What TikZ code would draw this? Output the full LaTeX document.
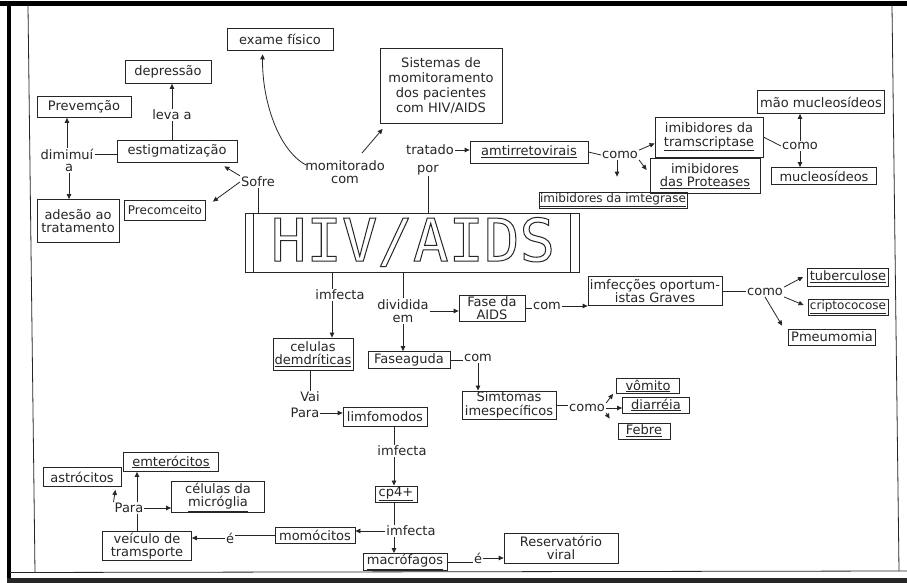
\documentclass[tikz,border=0pt]{standalone}
\usepackage{fontspec}
\setmainfont{DejaVu Sans}
\newfontfamily\hivfont{DejaVu Sans Mono}
\usetikzlibrary{arrows.meta,calc}
\newcommand{\myfs}{\fontsize{13}{13.5}\selectfont}
\newcommand{\smfs}{\fontsize{12}{13}\selectfont}
\begin{document}
\begin{tikzpicture}[x=1pt,y=-1pt,
  ink/.style={draw=black!85, line width=0.8pt},
  bx/.style={ink, rectangle, inner sep=1pt, align=center, font=\myfs, text=black!85},
  lb/.style={inner sep=1pt, align=center, font=\myfs, text=black!85},
  ar/.style={ink, -{Triangle[length=5pt,width=4.5pt]}},
  ln/.style={ink}
]
\useasboundingbox (0,0) rectangle (907,583);
% frame
\fill[white] (0,0) rectangle (907,583);
\fill[black] (0,1.5) rectangle (907,6);
\fill[black] (7,1.5) rectangle (10.5,583);
\fill[black!85] (7,577.5) rectangle (907,583);
\draw[ln] (28,6) -- (35,572);
\draw[ln] (10,572.5) -- (907,571);
\draw[ln] (892,6) -- (899,571);

% upper nodes
\node[bx,minimum width=106,minimum height=22] (exame) at (280,39) {exame físico};
\node[bx,minimum width=86,minimum height=23] (depr) at (168,72) {depressão};
\node[bx,minimum width=94,minimum height=21] (prev) at (84,107) {Prevemção};
\node[bx,minimum width=120,minimum height=22] (estig) at (177,151) {estigmatização};
\node[bx,minimum width=82,minimum height=43] (ades) at (78,221) {adesão ao\\tratamento};
\node[bx,minimum width=81,minimum height=20,font=\smfs] (prec) at (165,210) {Precomceito};
\node[bx,minimum width=122,minimum height=75,font=\fontsize{13}{15}\selectfont] (sist) at (441,86) {Sistemas de\\momitoramento\\dos pacientes\\com HIV/AIDS};
\node[bx,minimum width=118,minimum height=22] (antir) at (529,152) {\underline{amtirretovirais}};
\node[bx,minimum width=108,minimum height=40] (transc) at (709,137) {imibidores da\\\underline{tramscriptase}};
\node[bx,minimum width=110,minimum height=35] (prot) at (705,176) {imibidores\\\underline{das Proteases}};
\node[bx,minimum width=148,minimum height=16,font=\smfs] (integ) at (613,200) {\underline{imibidores da imtegrase}};
\node[bx,minimum width=127,minimum height=23] (naonuc) at (821,102) {mão mucleosídeos};
\node[bx,minimum width=105,minimum height=17] (nuc) at (824,176) {mucleosídeos};

\node[lb] (leva) at (172,115) {leva a};
\node[lb] (dim) at (67,154) {dimimuí};
\node[lb] (dima) at (69,168) {a};
\node[lb] (sofre) at (258,182) {Sofre};
\node[lb] (monit) at (345,172) {momitorado\\com};
\node[lb] (trat) at (430,150) {tratado};
\node[lb] (por) at (428,170) {por};
\node[lb] (como1) at (620,155) {como};
\node[lb] (como2) at (800,146) {como};

% central box
\node[ink, minimum width=334, minimum height=59, inner sep=0] (hiv) at (412,242.5) {};
\draw[ln] ($(hiv.north west)+(9,0)$) -- ($(hiv.south west)+(9,0)$);
\draw[ln] ($(hiv.north east)+(-9,0)$) -- ($(hiv.south east)+(-9,0)$);
\node[inner sep=0, text=black!85] (hivt) at (413,242) {\hivfont\fontsize{59}{59}\selectfont\special{pdf:literal direct 1 Tr 1 w}HIV/AIDS\special{pdf:literal direct 0 Tr}};

% lower nodes
\coordinate (h1) at (332,272);
\coordinate (h2) at (394,0);
\coordinate (px) at (137,508);
\node[lb] (inf1) at (340,295) {imfecta};
\node[lb] (divd) at (403,311) {dividida\\em};
\node[bx,minimum width=66,minimum height=26] (faids) at (492,308) {Fase da\\AIDS};
\node[lb] (com1) at (547,306) {com};
\node[bx,minimum width=134,minimum height=29] (infec) at (655,291) {imfecções oportum-\\istas Graves};
\node[lb] (como3) at (765,292) {como};
\node[bx,minimum width=81,minimum height=18] (tub) at (848,277) {\underline{tuberculose}};
\node[bx,minimum width=80,minimum height=16,font=\smfs] (crip) at (848,307) {\underline{criptococose}};
\node[bx,minimum width=87,minimum height=16] (pneu) at (832,337) {Pmeumomia};
\node[bx,minimum width=80,minimum height=32] (celd) at (313,354) {celulas\\\underline{demdríticas}};
\node[bx,minimum width=82,minimum height=17] (fasea) at (409,360) {Faseaguda};
\node[lb] (com2) at (478,358) {com};
\node[bx,minimum width=94,minimum height=28] (simt) at (509,405) {Simtomas\\imespecíficos};
\node[lb] (como4) at (587,408) {como};
\node[bx,minimum width=63,minimum height=15] (vom) at (648,386) {\underline{vômito}};
\node[bx,minimum width=67,minimum height=16] (diar) at (656,405) {\underline{diarréia}};
\node[bx,minimum width=52,minimum height=16] (feb) at (644,431) {\underline{Febre}};
\node[lb] (vai) at (310,397) {Vai};
\node[lb] (para1) at (305,413) {Para};
\node[bx,minimum width=84,minimum height=19] (limf) at (385,417) {limfomodos};
\node[lb] (inf2) at (402,451) {imfecta};
\node[bx,minimum width=42,minimum height=15] (cp4) at (396,494) {\underline{cp4+}};
\node[lb] (inf3) at (411,531) {imfecta};
\node[bx,minimum width=80,minimum height=16] (momo) at (315,535) {momócitos};
\node[bx,minimum width=84,minimum height=15] (macro) at (405,562) {\underline{macrófagos}};
\node[lb] (e1) at (478,558) {é};
\node[bx,minimum width=114,minimum height=30] (reserv) at (561,548) {Reservatório\\viral};
\node[lb] (e2) at (230,538) {é};
\node[bx,minimum width=89,minimum height=26] (veic) at (147,546) {veículo de\\tramsporte};
\node[lb] (para2) at (129,508) {Para};
\node[bx,minimum width=95,minimum height=19] (emter) at (171,462) {\underline{emterócitos}};
\node[bx,minimum width=78,minimum height=19] (astro) at (82,477) {astrócitos};
\node[bx,minimum width=93,minimum height=31] (celm) at (218,497) {células da\\\underline{micróglia}};

% upper connectors
\draw[ln] (leva.south) -- (leva.south |- estig.north);
\draw[ar] (leva.north) -- (leva.north |- depr.south);
\draw[ln] (dim.east) -- (dim.east -| estig.west);
\draw[ar] (dim.north) -- (dim.north |- prev.south);
\draw[ar] (dima.south) -- (dima.south |- ades.north);
\draw[ar] (sofre.north west) -- ($(estig.south east)+(-13,4)$);
\draw[ar] (sofre.west) -- ($(prec.north east)+(7,2)$);
\draw[ln] (sofre.south) -- (sofre.south |- hiv.north);
\draw[ar] ($(monit.north west)+(2,6)$) .. controls (278,150) and (262,100) .. ($(exame.south west)+(36,4)$);
\draw[ar] ($(monit.north)+(17,-6)$) -- ($(sist.south west)+(3,5)$);
\draw[ln] (por.south) -- (por.south |- hiv.north);
\draw[ar] (trat.east) -- (trat.east -| antir.west);
\draw[ln] (antir.east) -- (como1.west);
\draw[ar] (como1.north east) -- ($(transc.south west)+(0,-14)$);
\draw[ar] (como1.south east) -- ($(prot.west)+(-3,-6)$);
\draw[ar] ($(como1.south)+(-3,0)$) -- ($(integ.north)+(4,-15)$);
\draw[ln] (transc.east) -- (como2.west);
\draw[ar] (como2.north) -- (como2.north |- naonuc.south);
\draw[ar] (como2.south) -- (como2.south |- nuc.north);

% lower connectors
\draw[ln] (h1) -- (h1 |- inf1.north);
\draw[ar] (h1 |- inf1.south) -- (h1 |- celd.north);
\draw[ln] (divd.north |- hiv.south) -- (divd.north);
\draw[ar] (divd.south) -- (divd.south |- fasea.north);
\draw[ar] (divd.east) -- (divd.east -| faids.west);
\draw[ln] (faids.east) -- (faids.east -| com1.west);
\draw[ar] (com1.east) -- (com1.east -| infec.west);
\draw[ln] (infec.east) -- (infec.east -| como3.west);
\draw[ar] (como3.north east) -- ($(tub.west)+(-4,0)$);
\draw[ar] (como3.south east) -- ($(crip.west)+(-4,-2)$);
\draw[ar] (como3.south) -- ($(pneu.north west)+(-6,-3)$);
\draw[ln] (fasea.east) -- (fasea.east -| com2.west);
\draw[ar] (com2.south) -- (com2.south |- simt.north);
\draw[ln] (simt.east) -- (simt.east -| como4.west);
\draw[ar] (como4.north east) -- ($(vom.south west)+(-3,0)$);
\draw[ar] (como4.east) -- (como4.east -| diar.west);
\draw[ar] (como4.south east) -- ($(feb.north west)+(-8,-4)$);
\draw[ln] (vai.north |- celd.south) -- (vai.north);
\draw[ar] (para1.east) -- (para1.east -| limf.west);
\draw[ln] (h2 |- limf.south) -- (h2 |- inf2.north);
\draw[ar] (h2 |- inf2.south) -- (h2 |- cp4.north);
\draw[ln] (h2 |- cp4.south) -- (h2 |- inf3.north);
\draw[ar] (h2 |- inf3.south) -- (h2 |- macro.north);
\draw[ar] (inf3.west) -- (inf3.west -| momo.east);
\draw[ln] (macro.east) -- (macro.east -| e1.west);
\draw[ar] (e1.east) -- (e1.east -| reserv.west);
\draw[ln] (momo.west) -- (momo.west -| e2.east);
\draw[ar] (e2.west) -- (e2.west -| veic.east);
\draw[ln] (px |- veic.north) -- (px |- para2.south);
\draw[ar] (px |- para2.north) -- (px |- emter.south);
\draw[ar] (para2.north west) -- ($(astro.south east)+(-6,3)$);
\draw[ar] (para2.east) -- (para2.east -| celm.west);
\end{tikzpicture}
\end{document}
